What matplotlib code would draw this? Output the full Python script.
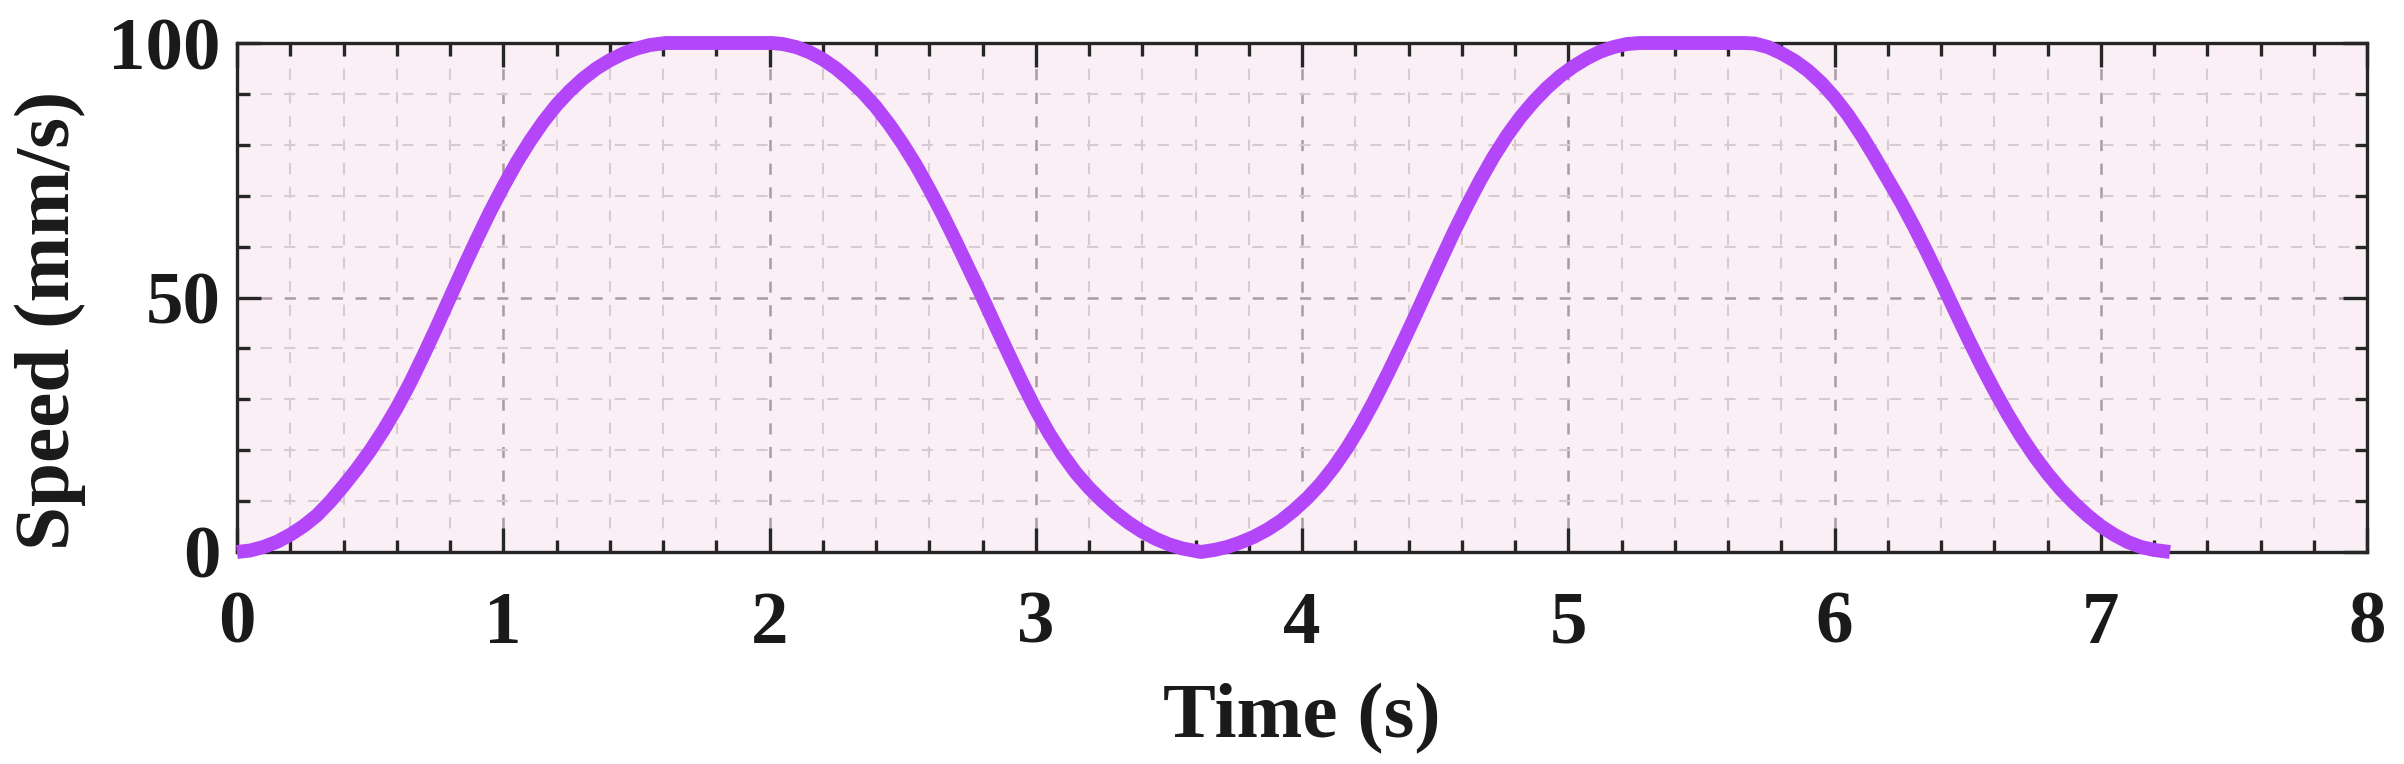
import matplotlib
matplotlib.use("Agg")
import matplotlib.pyplot as plt
from matplotlib.ticker import MultipleLocator

plt.rcParams['font.family'] = ['Liberation Serif', 'DejaVu Serif']
plt.rcParams['font.weight'] = 'bold'
plt.rcParams['lines.scale_dashes'] = False

# speed profile (time in s, speed in mm/s)
time_s = [0.00, 0.05, 0.10, 0.15, 0.20, 0.25, 0.30, 0.35, 0.40, 0.45,
          0.50, 0.55, 0.60, 0.65, 0.70, 0.75, 0.80, 0.85, 0.90, 0.95,
          1.00, 1.05, 1.10, 1.15, 1.20, 1.25, 1.30, 1.35, 1.40, 1.45,
          1.50, 1.55, 1.61, 2.01,
          2.05, 2.10, 2.15, 2.20, 2.25, 2.30, 2.35, 2.40, 2.45, 2.50,
          2.55, 2.60, 2.65, 2.70, 2.75, 2.80, 2.85, 2.90, 2.95, 3.00,
          3.05, 3.10, 3.15, 3.20, 3.25, 3.30, 3.35, 3.40, 3.45, 3.50,
          3.55, 3.62,
          3.67, 3.72, 3.77, 3.82, 3.87, 3.92, 3.97, 4.02, 4.07, 4.12,
          4.17, 4.22, 4.27, 4.32, 4.37, 4.42, 4.47, 4.52, 4.57, 4.62,
          4.67, 4.72, 4.77, 4.82, 4.87, 4.92, 4.97, 5.02, 5.07, 5.12,
          5.17, 5.22, 5.27, 5.66,
          5.70, 5.75, 5.80, 5.85, 5.90, 5.95, 6.00, 6.05, 6.10, 6.15,
          6.20, 6.25, 6.30, 6.35, 6.40, 6.45, 6.50, 6.55, 6.60, 6.65,
          6.70, 6.75, 6.80, 6.85, 6.90, 6.95, 7.00, 7.05, 7.10, 7.15,
          7.20, 7.26]
speed = [0.0, 0.3, 1.0, 2.0, 3.4, 5.1, 7.2, 9.9, 13.0, 16.3,
         19.9, 23.9, 28.3, 33.2, 38.6, 44.2, 50.0, 55.8, 61.4, 66.8,
         71.8, 76.5, 80.7, 84.5, 87.8, 90.6, 93.0, 95.0, 96.6, 97.9,
         98.9, 99.6, 100.0, 100.0,
         99.8, 99.2, 98.2, 96.8, 95.0, 92.8, 90.3, 87.4, 84.0, 80.2,
         76.0, 71.3, 66.3, 61.0, 55.5, 50.0, 44.3, 38.7, 33.2, 28.0,
         23.3, 19.2, 15.6, 12.6, 10.0, 7.7, 5.7, 4.0, 2.6, 1.5,
         0.7, 0.0,
         0.4, 1.0, 1.9, 3.0, 4.4, 6.1, 8.2, 10.6, 13.4, 16.7,
         20.5, 24.8, 29.6, 34.8, 40.2, 45.8, 51.5, 57.2, 62.8, 68.1,
         73.1, 77.7, 81.8, 85.4, 88.5, 91.2, 93.5, 95.4, 97.0, 98.3,
         99.2, 99.8, 100.0, 100.0,
         99.9, 99.2, 98.0, 96.5, 94.6, 92.2, 89.3, 85.9, 82.0, 77.7,
         73.2, 68.7, 63.8, 58.6, 53.2, 47.6, 42.1, 36.8, 31.8, 27.1,
         22.8, 18.9, 15.4, 12.3, 9.6, 7.2, 5.1, 3.4, 2.0, 1.0,
         0.4, 0.0]

x_ticks = [0, 1, 2, 3, 4, 5, 6, 7, 8]
y_ticks = [0, 50, 100]

fig = plt.figure(figsize=(24.04, 7.64), dpi=100)
ax = fig.add_axes([237 / 2404, (764 - 552) / 764, (2367 - 237) / 2404, (552 - 43) / 764])
ax.set_facecolor('#faeff5')

ax.plot(time_s, speed, color='#b446fa', lw=10, solid_capstyle='butt',
        solid_joinstyle='round', clip_on=False, zorder=5)

ax.set_xlim(0, 8)
ax.set_ylim(0, 100)
ax.set_xticks(x_ticks)
ax.set_yticks(y_ticks)
ax.xaxis.set_minor_locator(MultipleLocator(0.2))
ax.yaxis.set_minor_locator(MultipleLocator(10))

ax.grid(which='major', ls=(0, (8, 9)), color='#a99aa3', lw=1.8)
ax.grid(which='minor', ls=(0, (8, 9)), color='#d8c9d2', lw=1.5)
ax.set_axisbelow(True)

for s in ax.spines.values():
    s.set_linewidth(2.4)
    s.set_color('#262626')

ax.tick_params(which='both', direction='in', top=True, right=True,
               color='#262626', width=2.4)
ax.tick_params(which='major', length=17)
ax.tick_params(which='minor', length=9)
ax.tick_params(axis='x', which='major', labelsize=54, pad=28)
ax.tick_params(axis='y', which='major', labelsize=54, pad=12)
for lab in ax.get_xticklabels() + ax.get_yticklabels():
    lab.set_fontweight('bold')
    lab.set_color('#1a1a1a')

ax.set_xlabel('Time (s)', fontsize=57, fontweight='bold', color='#1a1a1a')
ax.set_ylabel('Speed (mm/s)', fontsize=57, fontweight='bold', color='#1a1a1a')
ax.xaxis.set_label_coords(0.5, -0.258)
ax.yaxis.set_label_coords(-0.071, 0.455)

fig.savefig('out.png', dpi=100)
